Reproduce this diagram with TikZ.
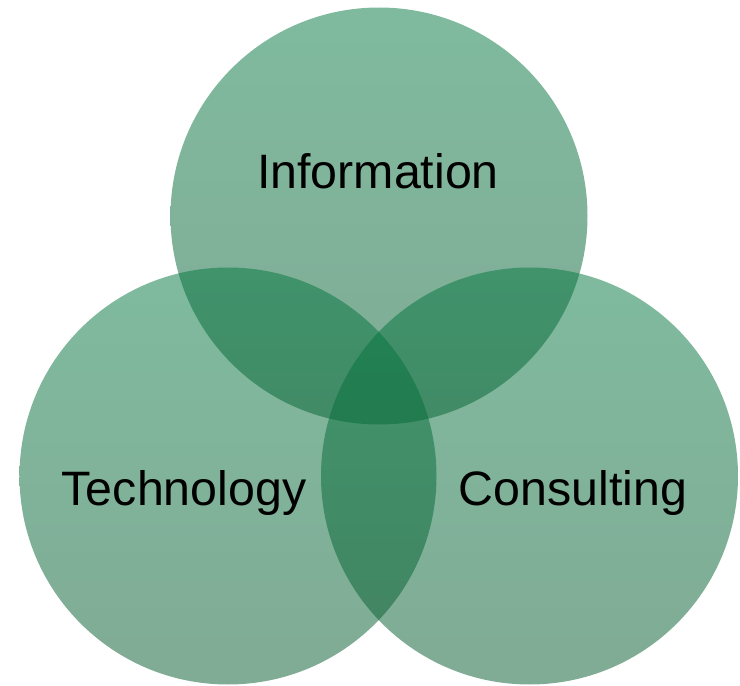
\documentclass[tikz,border=0pt]{standalone}
\usepackage{fontspec}
\setmainfont{Liberation Sans}
\usetikzlibrary{calc}

\definecolor{vennTop}{RGB}{4,120,65}
\definecolor{vennBottom}{RGB}{6,90,47}

\begin{document}
\begin{tikzpicture}[
    % --- styles ---
    set/.style = {circle, minimum size=2*\r cm, inner sep=0pt,
                  top color=vennTop, bottom color=vennBottom,
                  fill opacity=0.51},            % one set of the diagram
    setLabel/.style = {anchor=base, text=black,
                  font=\fontsize{27.5}{33}\selectfont} % set name
    ]

    % --- parameters ---
    \def\r{4.17}     % radius

    % --- bounding box (page size) ---
    \useasboundingbox (0,0) rectangle (14.8,13.7);

    % --- centres ---
    \coordinate (I) at (7.58,9.38);    % top
    \coordinate (T) at (4.56,4.18);    % lower left
    \coordinate (C) at (10.59,4.18);   % lower right

    % --- the three circles ---
    \node[set] (info) at (I) {};
    \node[set] (tech) at (T) {};
    \node[set] (cons) at (C) {};

    % --- names ---
    \node[setLabel] (infoText) at (7.56,9.92) {Information};
    \node[setLabel] (techText) at (3.68,3.6) {Technology};
    \node[setLabel] (consText) at (11.46,3.6) {Consulting};
\end{tikzpicture}
\end{document}
